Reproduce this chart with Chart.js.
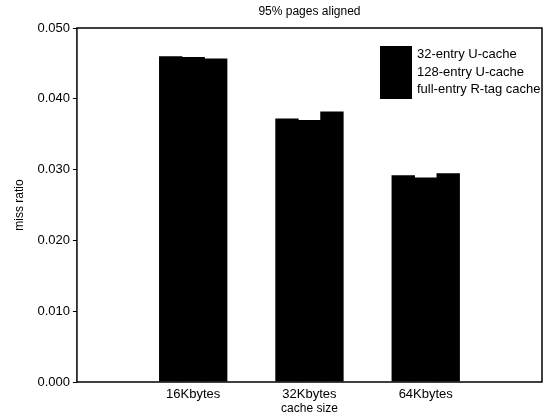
<!DOCTYPE html>
<html>
<head>
<meta charset="utf-8">
<script src="https://cdn.jsdelivr.net/npm/chart.js@4.4.0/dist/chart.umd.min.js"></script>
<style>
  body { margin: 0; background: #fff; }
</style>
</head>
<body>
<canvas id="chart" width="550" height="420"></canvas>
<script>
const titleText = '95% pages aligned';
const categories = ['16Kbytes', '32Kbytes', '64Kbytes'];
const seriesNames = ['32-entry U-cache', '128-entry U-cache', 'full-entry R-tag cache'];
const u32Cache = [0.0460, 0.0372, 0.0292];
const u128Cache = [0.0459, 0.0370, 0.0289];
const rtagCache = [0.0457, 0.0382, 0.0295];
const yTicks = [0.000, 0.010, 0.020, 0.030, 0.040, 0.050];

const FONT = '"Liberation Sans", Arial, Helvetica, sans-serif';

// frame, title over plot area, legend inside plot
const frameAndLegend = {
    id: 'frameAndLegend',
    afterDraw(chart) {
        const { ctx, chartArea: a } = chart;
        ctx.save();
        ctx.strokeStyle = '#000';
        ctx.lineWidth = 1.5;
        ctx.strokeRect(a.left, a.top, a.right - a.left, a.bottom - a.top);

        ctx.fillStyle = '#000';
        ctx.font = '12px ' + FONT;
        ctx.textAlign = 'center';
        ctx.textBaseline = 'middle';
        ctx.fillText(titleText, (a.left + a.right) / 2, a.top - 16);

        const rowH = 17.5;
        const bx = a.right - 162;
        const by = a.top + 18;
        ctx.font = '13px ' + FONT;
        ctx.textAlign = 'left';
        chart.data.datasets.forEach((ds, i) => {
            ctx.fillStyle = ds.backgroundColor;
            ctx.fillRect(bx, by + i * rowH, 32, rowH + 0.5);
            ctx.fillStyle = '#000';
            ctx.fillText(ds.label, bx + 37, by + i * rowH + rowH / 2);
        });
        ctx.restore();
    }
};

const toPoints = arr => arr.map((v, i) => ({ x: i + 1, y: v }));

new Chart(document.getElementById('chart').getContext('2d'), {
    type: 'bar',
    data: {
        datasets: [
            { label: seriesNames[0], data: toPoints(u32Cache), backgroundColor: '#000' },
            { label: seriesNames[1], data: toPoints(u128Cache), backgroundColor: '#000' },
            { label: seriesNames[2], data: toPoints(rtagCache), backgroundColor: '#000' }
        ]
    },
    options: {
        responsive: false,
        animation: false,
        layout: { padding: { top: 28, right: 8, left: 12, bottom: 4 } },
        datasets: { bar: { categoryPercentage: 0.58, barPercentage: 1.04, borderWidth: 0 } },
        plugins: {
            legend: { display: false },
            tooltip: { enabled: false }
        },
        scales: {
            x: {
                type: 'linear',
                min: 0,
                max: 4,
                offset: false,
                grid: { display: false },
                border: { display: false },
                ticks: {
                    stepSize: 1,
                    padding: -3,
                    color: '#000',
                    font: { family: FONT, size: 13 },
                    callback: v => categories[v - 1] || ''
                },
                title: { display: true, text: 'cache size', color: '#000', font: { family: FONT, size: 12 }, padding: { top: 2, bottom: 0 } }
            },
            y: {
                min: 0,
                max: 0.05,
                grid: { drawOnChartArea: false, tickLength: 4, color: '#000' },
                border: { display: false },
                afterBuildTicks: axis => { axis.ticks = yTicks.map(v => ({ value: v })); },
                ticks: {
                    color: '#000',
                    font: { family: FONT, size: 13 },
                    callback: v => v.toFixed(3)
                },
                title: { display: true, text: 'miss ratio', color: '#000', font: { family: FONT, size: 12 }, padding: { top: 0, bottom: 8 } }
            }
        }
    },
    plugins: [frameAndLegend]
});
</script>
</body>
</html>
